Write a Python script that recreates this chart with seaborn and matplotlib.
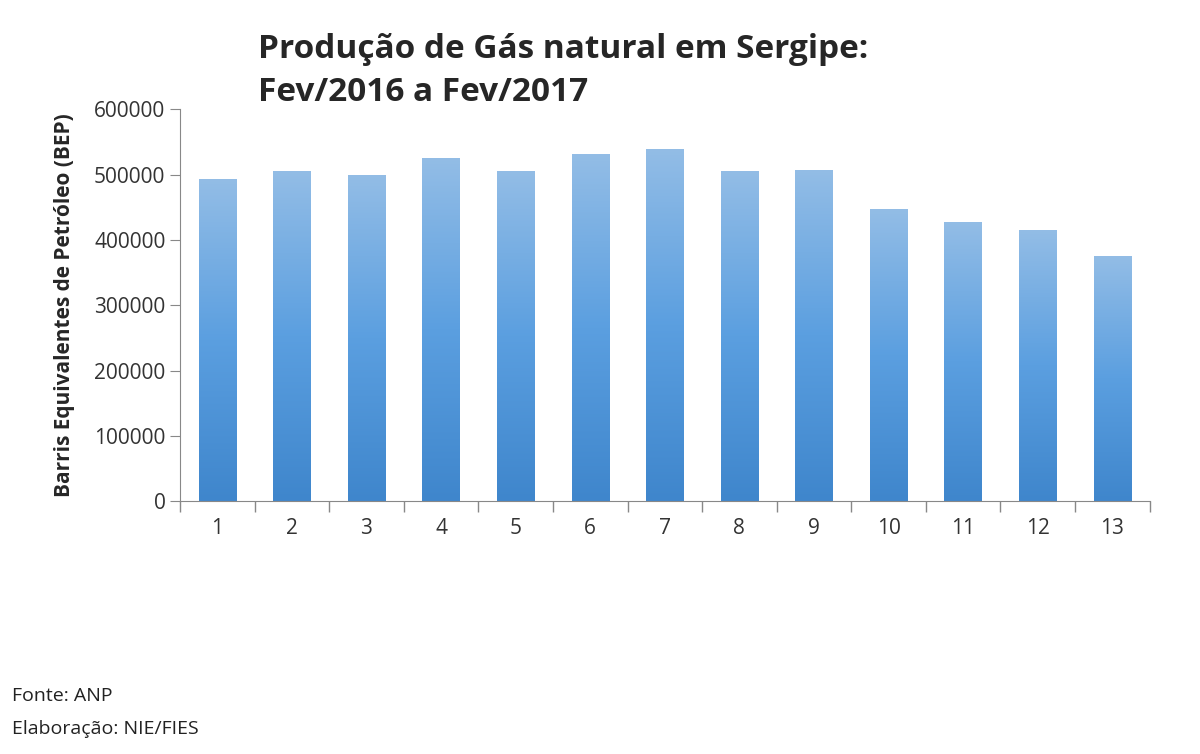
import numpy as np
import pandas as pd
import seaborn as sns
import matplotlib
matplotlib.use("Agg")
import matplotlib.pyplot as plt
from matplotlib.colors import LinearSegmentedColormap

months = list(range(1, 14))
production = [493000, 506000, 499000, 526000, 506000, 531000, 539000,
              506000, 507000, 448000, 428000, 416000, 376000]

sns.set_style("white")
plt.rcParams['font.family'] = ['Open Sans', 'DejaVu Sans']

df = pd.DataFrame({"mes": months, "bep": production})

fig = plt.figure(figsize=(12, 7.54), dpi=100)
ax = fig.add_axes([0.15, 0.335, 0.808, 0.52])
sns.barplot(data=df, x="mes", y="bep", color="#5b9bd5", width=0.5, ax=ax)

# vertical gradient inside each bar
cmap = LinearSegmentedColormap.from_list("g", ["#3f86cc", "#5b9fe0", "#93bde6"])
grad = np.linspace(0, 1, 256).reshape(-1, 1)
for p in ax.patches:
    x0, y0 = p.get_x(), p.get_y()
    w, h = p.get_width(), p.get_height()
    im = ax.imshow(grad, extent=[x0, x0 + w, y0, y0 + h], origin="lower",
                   cmap=cmap, aspect="auto", zorder=p.get_zorder())
    im.set_clip_path(p)
    p.set_facecolor("none")
    p.set_edgecolor("none")

ax.set_xlim(-0.5, 12.5)
ax.set_ylim(0, 600000)
ax.set_yticks(range(0, 600001, 100000))
ax.set_yticklabels([str(v) for v in range(0, 600001, 100000)], fontsize=15, color="#333333")
ax.set_xticks(range(13))
ax.set_xticklabels([str(m) for m in months], fontsize=15, color="#333333")
ax.tick_params(axis="x", length=0, pad=12)
ax.set_xticks(np.arange(-0.5, 13, 1), minor=True)
ax.tick_params(axis="x", which="minor", length=8, width=1, color="#888888",
               direction="out", bottom=True)
ax.tick_params(axis="y", length=7, color="#888888", direction="out", left=True)
for s in ["top", "right"]:
    ax.spines[s].set_visible(False)
for s in ["left", "bottom"]:
    ax.spines[s].set_color("#888888")
ax.set_xlabel("")
ax.set_ylabel("Barris Equivalentes de Petróleo (BEP)", fontsize=15, fontweight="bold",
              labelpad=14)

fig.text(0.215, 0.855, "Produção de Gás natural em Sergipe:\nFev/2016 a Fev/2017",
         fontsize=24, fontweight="bold", ha="left", va="bottom", linespacing=1.4)
fig.text(0.01, 0.07, "Fonte: ANP", fontsize=14, color="#222222")
fig.text(0.01, 0.027, "Elaboração: NIE/FIES", fontsize=14, color="#222222")

fig.savefig("out.png", dpi=100)
